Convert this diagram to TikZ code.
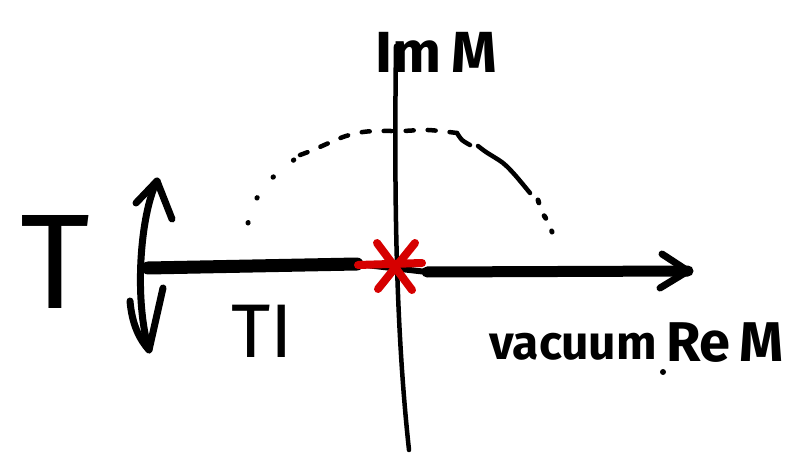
\documentclass[tikz,border=0pt]{standalone}
\usepackage{fontspec}
\setmainfont{Fira Sans}
\definecolor{starred}{RGB}{214,0,0}
\begin{document}
\begin{tikzpicture}[x=1pt,y=-1pt,
  ink/.style={draw=black,line cap=round,line join=round},
  lbl/.style={inner sep=0pt,anchor=base,text=black},
  startok/.style={draw=starred,line width=8pt,line cap=round}]
\useasboundingbox (0,0) rectangle (786,454);
% coordinates
\coordinate (L) at (148,268);
\coordinate (Lm) at (357,264);
\coordinate (Rm) at (427,272);
\coordinate (R) at (688,271);
\coordinate (Vt) at (396,46);
\coordinate (Vb) at (409,450);
% vertical axis
\draw[ink,line width=4.5pt] (Vt) .. controls (394,200) and (396,330) .. (Vb);
% horizontal axis
\draw[ink,line width=13pt] (L) -- (Lm);
\draw[ink,line width=6pt] (Lm) -- (Rm);
\draw[ink,line width=11pt] (Rm) -- (R);
\draw[ink,line width=7pt] (662,254) -- (R) -- (660,288);
% dotted arc
\draw[ink,line width=5pt,dash pattern=on 0.5pt off 26pt]
  plot[smooth] coordinates {(248,223) (257,198) (270,180) (300,155)};
\draw[ink,line width=4.5pt,dash pattern=on 8pt off 14pt]
  plot[smooth] coordinates {(300,155) (313,150) (343,137) (363,132) (380,131) (402,131) (428,130) (457,133)};
\draw[ink,line width=4.5pt]
  plot[smooth] coordinates {(457,133) (462,140) (470,145)};
\draw[ink,line width=4.5pt]
  plot[smooth] coordinates {(478,146) (486,152) (503,163) (515,175) (530,193)};
\draw[ink,line width=5pt,dash pattern=on 3pt off 14pt]
  plot[smooth] coordinates {(538,200) (542,212) (548,222) (552,232)};
% red star
\draw[startok] (358,265) -- (422,263);
\draw[startok] (377,243) -- (412,290);
\draw[startok] (415,243) -- (378,289);
% double arrow
\coordinate (At) at (157,181);
\coordinate (Ab) at (149,350);
\draw[ink,line width=7pt] (At) .. controls (140,215) and (134,300) .. (Ab);
\draw[ink,line width=7pt] (136,203) -- (At) -- (172,219);
\draw[ink,line width=7pt] (130,301) .. controls (132,325) and (140,340) .. (Ab) -- (163,288);
% labels
\node[lbl,font=\fontsize{135}{135}\selectfont] (tT) at (55,308) {T};
\node[lbl,font=\fontsize{76}{76}\selectfont] (tTI) at (262,357) {TI};
\node[lbl,font=\bfseries\fontsize{48}{48}\selectfont] (tvac) at (573,359) {vacuum};
\node[lbl,font=\bfseries\fontsize{56}{56}\selectfont] (tRe) at (725,361) {Re\,M};
\node[lbl,font=\bfseries\fontsize{58}{58}\selectfont] (tIm) at (436,73) {Im\,M};
\fill (663,372) circle (3pt);
\end{tikzpicture}
\end{document}
